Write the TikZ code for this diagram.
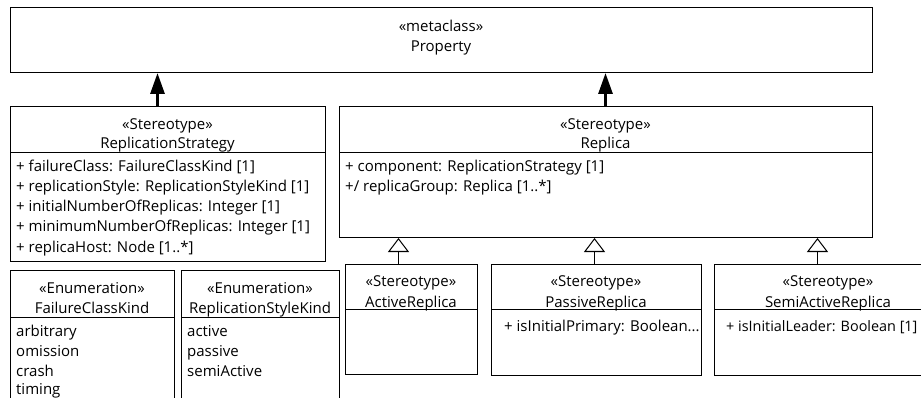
\documentclass[tikz,border=0pt]{standalone}
\usepackage{fontspec}
\setmainfont{Open Sans}
\usetikzlibrary{arrows.meta}

\begin{document}
\begin{tikzpicture}[x=1pt,y=-1pt,
    box/.style={draw,line width=1pt,inner sep=0pt,anchor=north west},
    txt/.style={anchor=base,inner sep=0pt,font=\fontsize{15}{18}\selectfont},
    attr/.style={txt,anchor=base west},
    ext/.style={line width=3pt,-{Triangle[width=14pt,length=21pt]}},
    gen/.style={line width=1pt,-{Triangle[open,width=21pt,length=14pt,fill=white]}}]
  \useasboundingbox (0,0) rectangle (921,398);
  \clip (0,0) rectangle (921,398);

  % metaclass
  \node[box,minimum width=862pt,minimum height=65pt] (prop) at (10,7) {};
  \node[txt] (propst) at (441,32) {«metaclass»};
  \node[txt] (propnm) at (441,52) {Property};

  % ReplicationStrategy
  \node[box,minimum width=315pt,minimum height=155pt] (rs) at (10,106) {};
  \draw[line width=1pt] (10,153) -- (325,153);
  \node[txt] (rsst) at (167.5,130) {«Stereotype»};
  \node[txt] (rsnm) at (167.5,149) {ReplicationStrategy};
  \node[attr] (rsa1) at (16,172) {+ failureClass: FailureClassKind [1]};
  \node[attr] (rsa2) at (16,192) {+ replicationStyle: ReplicationStyleKind [1]};
  \node[attr] (rsa3) at (16,212) {+ initialNumberOfReplicas: Integer [1]};
  \node[attr] (rsa4) at (16,232) {+ minimumNumberOfReplicas: Integer [1]};
  \node[attr] (rsa5) at (16,252) {+ replicaHost: Node [1..*]};

  % Replica
  \node[box,minimum width=533pt,minimum height=131pt] (rep) at (339,106) {};
  \draw[line width=1pt] (339,153) -- (872,153);
  \node[txt] (repst) at (605.5,130) {«Stereotype»};
  \node[txt] (repnm) at (605.5,149) {Replica};
  \node[attr] (repa1) at (345,172) {+ component: ReplicationStrategy [1]};
  \node[attr] (repa2) at (345,192) {+/ replicaGroup: Replica [1..*]};

  % enumerations
  \node[box,minimum width=164pt,minimum height=150pt] (fck) at (10,270) {};
  \draw[line width=1pt] (10,317) -- (174,317);
  \node[txt] (fckst) at (92,293) {«Enumeration»};
  \node[txt] (fcknm) at (92,313) {FailureClassKind};
  \node[attr] (fckl1) at (16,336) {arbitrary};
  \node[attr] (fckl2) at (16,356) {omission};
  \node[attr] (fckl3) at (16,376) {crash};
  \node[attr] (fckl4) at (16,394) {timing};

  \node[box,minimum width=158pt,minimum height=150pt] (rsk) at (181,270) {};
  \draw[line width=1pt] (181,317) -- (339,317);
  \node[txt] (rskst) at (260,293) {«Enumeration»};
  \node[txt] (rsknm) at (260,313) {ReplicationStyleKind};
  \node[attr] (rskl1) at (187,336) {active};
  \node[attr] (rskl2) at (187,356) {passive};
  \node[attr] (rskl3) at (187,376) {semiActive};

  % replica kinds
  \node[box,minimum width=132pt,minimum height=110pt] (act) at (345,264) {};
  \draw[line width=1pt] (345,309) -- (477,309);
  \node[txt] (actst) at (411,287) {«Stereotype»};
  \node[txt] (actnm) at (411,307) {ActiveReplica};

  \node[box,minimum width=210pt,minimum height=111pt] (pas) at (491,264) {};
  \draw[line width=1pt] (491,309) -- (701,309);
  \node[txt] (passt) at (596,287) {«Stereotype»};
  \node[txt] (pasnm) at (596,307) {PassiveReplica};
  \node[attr] (pasa1) at (504,331) {+ isInitialPrimary: Boolean...};

  \node[box,minimum width=228pt,minimum height=111pt] (semi) at (714,264) {};
  \draw[line width=1pt] (714,309) -- (942,309);
  \node[txt] (semist) at (828,287) {«Stereotype»};
  \node[txt] (seminm) at (828,307) {SemiActiveReplica};
  \node[attr,font=\fontsize{14.4}{18}\selectfont] (semia1) at (726,331) {+ isInitialLeader: Boolean [1]};

  % connectors
  \draw[ext] ([xshift=-10.5pt]rs.north) -- ([xshift=-10.5pt]rs.north |- prop.south);
  \draw[ext] ([xshift=-0.5pt]rep.north) -- ([xshift=-0.5pt]rep.north |- prop.south);
  \draw[gen] ([xshift=-13pt]act.north) -- ([xshift=-13pt]act.north |- rep.south);
  \draw[gen] ([xshift=-2pt]pas.north) -- ([xshift=-2pt]pas.north |- rep.south);
  \draw[gen] ([xshift=-11pt]semi.north) -- ([xshift=-11pt]semi.north |- rep.south);
\end{tikzpicture}
\end{document}
